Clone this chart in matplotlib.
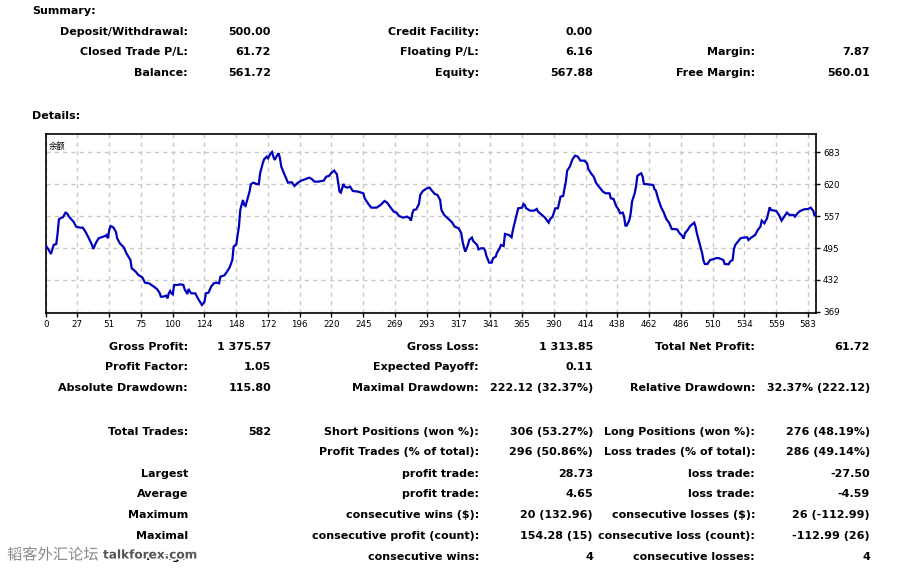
import matplotlib
matplotlib.use("Agg")
import matplotlib.pyplot as plt
import matplotlib.patheffects as pe
import numpy as np

# ---------------- data ----------------
trade_idx = [0, 2, 4, 6, 8, 9, 10, 12, 13, 15, 16, 18, 21, 23, 26, 28, 30, 32, 35, 36,
             38, 40, 42, 45, 46, 47, 48, 49, 51, 53, 54, 56, 59, 61, 64, 65, 68, 70, 73, 75,
             78, 81, 84, 86, 87, 89, 91, 92, 93, 94, 95, 96, 97, 99, 102, 104, 105, 107, 108, 109,
             110, 113, 115, 117, 118, 120, 121, 123, 125, 127, 129, 131, 132, 135, 137, 139, 141, 142, 144, 145,
             146, 147, 149, 150, 151, 153, 154, 155, 157, 159, 161, 162, 164, 165, 167, 168, 170, 171, 172, 173,
             175, 176, 177, 178, 180, 182, 183, 186, 188, 190, 193, 196, 199, 201, 203, 206, 210, 212, 214, 216,
             218, 220, 221, 222, 223, 224, 225, 226, 228, 230, 232, 236, 240, 241, 244, 246, 250, 253, 256, 258,
             261, 263, 265, 267, 270, 273, 275, 276, 277, 278, 280, 282, 283, 285, 288, 290, 292, 294, 296, 298,
             299, 301, 303, 307, 309, 312, 314, 315, 316, 317, 319, 320, 322, 323, 326, 327, 329, 331, 332, 333,
             335, 337, 338, 340, 341, 343, 344, 346, 347, 350, 352, 353, 355, 357, 360, 361, 362, 363, 366, 369,
             371, 372, 375, 377, 380, 381, 383, 385, 387, 389, 391, 392, 393, 394, 396, 398, 400, 402, 404, 407,
             409, 410, 412, 414, 416, 419, 421, 423, 426, 427, 429, 431, 433, 434, 436, 437, 438, 439, 441, 442,
             443, 445, 446, 447, 449, 450, 451, 452, 455, 459, 460, 461, 463, 465, 467, 469, 471, 473, 477, 479,
             481, 482, 483, 485, 487, 490, 491, 492, 494, 496, 497, 498, 500, 502, 504, 507, 509, 512, 513, 516,
             517, 519, 520, 521, 523, 525, 527, 530, 531, 533, 536, 538, 540, 541, 543, 545, 547, 548, 552, 554,
             556, 558, 560, 562, 565, 566, 568, 570, 573, 576, 578, 580, 581, 582]
balance = [500.0, 492.5, 483.3, 501.0, 503.0, 524.0, 551.5, 554.8, 555.5, 564.7, 563.4, 555.5, 546.9, 537.1, 535.1, 535.1, 527.3, 517.4, 501.0, 493.2,
           505.6, 514.2, 516.1, 518.7, 520.7, 514.2, 530.5, 538.4, 535.8, 527.3, 514.2, 504.3, 496.4, 484.6, 471.5, 455.1, 448.6, 442.0, 437.4, 426.9,
           425.6, 420.4, 414.5, 407.2, 399.4, 399.4, 401.3, 396.1, 405.9, 410.5, 405.9, 403.9, 422.3, 422.3, 423.6, 422.3, 413.8, 404.6, 414.5, 409.2,
           405.9, 405.9, 396.1, 387.5, 383.0, 389.5, 405.9, 407.2, 419.0, 425.6, 426.9, 425.6, 438.7, 441.3, 448.5, 457.1, 471.5, 497.8, 502.3, 520.7,
           537.1, 569.9, 589.6, 579.7, 577.8, 596.1, 606.0, 620.4, 623.7, 621.1, 620.4, 642.1, 661.7, 669.6, 674.9, 671.6, 681.4, 684.0, 674.9, 668.3,
           678.1, 681.4, 671.6, 655.2, 642.1, 630.3, 623.7, 624.4, 617.1, 622.4, 627.6, 630.3, 633.5, 630.9, 625.7, 625.7, 627.6, 635.5, 636.8, 643.4,
           647.3, 640.1, 622.4, 606.0, 604.0, 612.5, 621.1, 615.8, 613.9, 615.8, 607.3, 606.0, 602.7, 592.9, 581.0, 574.5, 574.5, 579.7, 587.6, 584.3,
           573.2, 566.6, 564.7, 558.1, 554.8, 556.8, 553.5, 548.9, 563.4, 569.9, 571.2, 581.7, 599.4, 607.3, 612.5, 613.9, 607.3, 601.4, 599.4, 589.6,
           569.9, 560.1, 555.5, 545.6, 537.1, 533.8, 524.0, 507.6, 496.4, 487.9, 501.0, 510.9, 515.5, 508.9, 501.0, 492.5, 494.5, 494.5, 489.9, 479.4,
           466.3, 466.3, 474.8, 478.1, 485.9, 494.5, 501.0, 499.0, 522.7, 520.7, 516.1, 530.5, 551.5, 573.2, 574.5, 581.7, 579.7, 573.2, 568.6, 568.6,
           571.9, 566.6, 560.1, 555.5, 545.0, 551.5, 556.8, 573.2, 573.2, 596.1, 597.5, 612.5, 625.7, 647.3, 655.2, 669.6, 676.8, 674.9, 667.0, 667.0,
           661.7, 650.6, 642.1, 635.5, 622.4, 612.5, 606.0, 602.7, 602.7, 592.9, 591.6, 577.8, 569.9, 563.4, 564.7, 556.8, 539.1, 539.1, 550.2, 563.4,
           586.3, 602.7, 615.8, 636.8, 640.7, 642.1, 635.5, 621.1, 620.4, 619.1, 610.6, 608.0, 589.6, 575.1, 564.7, 551.5, 545.0, 532.5, 531.8, 524.0,
           518.7, 513.5, 524.0, 530.5, 538.4, 545.0, 537.1, 524.0, 504.3, 484.6, 470.2, 463.6, 463.6, 471.5, 472.8, 475.4, 474.8, 471.5, 463.6, 463.0,
           468.2, 471.5, 493.2, 501.0, 507.6, 514.2, 515.5, 516.1, 510.9, 515.5, 520.7, 530.5, 537.1, 548.9, 543.7, 553.5, 575.1, 569.9, 567.9, 560.1,
           548.9, 556.8, 564.7, 560.1, 560.1, 556.8, 563.4, 567.9, 571.2, 571.9, 574.5, 567.9, 558.1, 561.7]

x_tick_labels = ["0", "27", "51", "75", "100", "124", "148", "172", "196", "220", "245", "269",
                 "293", "317", "341", "365", "390", "414", "438", "462", "486", "510", "534", "559", "583"]
y_tick_labels = ["369", "432", "495", "557", "620", "683"]
chart_label = "余额"

summary_rows = [
    ("Deposit/Withdrawal:", "500.00", "Credit Facility:", "0.00", "", ""),
    ("Closed Trade P/L:", "61.72", "Floating P/L:", "6.16", "Margin:", "7.87"),
    ("Balance:", "561.72", "Equity:", "567.88", "Free Margin:", "560.01"),
]
detail_rows = [
    ("Gross Profit:", "1 375.57", "Gross Loss:", "1 313.85", "Total Net Profit:", "61.72"),
    ("Profit Factor:", "1.05", "Expected Payoff:", "0.11", "", ""),
    ("Absolute Drawdown:", "115.80", "Maximal Drawdown:", "222.12 (32.37%)", "Relative Drawdown:", "32.37% (222.12)"),
    ("Total Trades:", "582", "Short Positions (won %):", "306 (53.27%)", "Long Positions (won %):", "276 (48.19%)"),
    ("", "", "Profit Trades (% of total):", "296 (50.86%)", "Loss trades (% of total):", "286 (49.14%)"),
    ("Largest", "", "profit trade:", "28.73", "loss trade:", "-27.50"),
    ("Average", "", "profit trade:", "4.65", "loss trade:", "-4.59"),
    ("Maximum", "", "consecutive wins ($):", "20 (132.96)", "consecutive losses ($):", "26 (-112.99)"),
    ("Maximal", "", "consecutive profit (count):", "154.28 (15)", "consecutive loss (count):", "-112.99 (26)"),
    ("Average", "", "consecutive wins:", "4", "consecutive losses:", "4"),
]

# ---------------- layout ----------------
W, H = 921, 568
fig = plt.figure(figsize=(W / 100, H / 100), dpi=100)
fig.patch.set_facecolor("white")

def fx(px):
    return px / W

def fy(py):
    return 1 - py / H

ax_l, ax_r, ax_t, ax_b = 45.7, 816.0, 134.3, 313.0
ax = fig.add_axes([fx(ax_l), fy(ax_b), (ax_r - ax_l) / W, (ax_b - ax_t) / H])

ax.plot(trade_idx, balance, color="#0000BB", lw=1.6, solid_joinstyle="miter", zorder=3)

ax.set_xlim(0, 582)
ax.set_ylim(367.2, 718.8)

n_x = len(x_tick_labels)
x_ticks = np.concatenate([[0.0], 23.9 + 24.0 * np.arange(n_x - 1)])
ax.set_xticks(x_ticks)
ax.set_xticklabels(x_tick_labels)
y_ticks = 369.4 + 62.8 * np.arange(len(y_tick_labels))
ax.set_yticks(y_ticks)
ax.set_yticklabels(y_tick_labels)
ax.yaxis.tick_right()

ax.grid(True, color="#c8c8c8", linestyle=(0, (3, 3)), linewidth=1.0, zorder=0)
ax.tick_params(axis="both", direction="out", length=3, width=1, labelsize=6.3,
               colors="black", pad=2)
for s in ax.spines.values():
    s.set_linewidth(1.2)
    s.set_color("black")

ax.text(0.004, 0.955, chart_label, transform=ax.transAxes, fontsize=6,
        family=["Noto Sans CJK SC", "DejaVu Sans"], va="top", ha="left")

# ---------------- text ----------------
tfont = dict(family="DejaVu Sans", fontsize=8.0, fontweight="bold", color="black", va="center")
cols = [188, 271, 479, 593, 755, 870]

fig.text(fx(32), fy(11), "Summary:", ha="left", **tfont)
fig.text(fx(32), fy(116), "Details:", ha="left", **tfont)

for row, y in zip(summary_rows, [32, 52, 73]):
    for txt, cx in zip(row, cols):
        if txt:
            fig.text(fx(cx), fy(y), txt, ha="right", **tfont)

detail_ys = [347, 367, 388, 432, 452, 474, 494, 515, 536, 557]
for row, y in zip(detail_rows, detail_ys):
    for txt, cx in zip(row, cols):
        if txt:
            fig.text(fx(cx), fy(y), txt, ha="right", **tfont)

# watermark
halo = [pe.withStroke(linewidth=2.5, foreground="white")]
fig.text(fx(7), fy(555), "韬客外汇论坛", ha="left", va="center", fontsize=11,
         family=["Noto Sans CJK SC", "DejaVu Sans"], color="#8a8a8a", path_effects=halo)
fig.text(fx(103), fy(555), "talkforex.com", ha="left", va="center", fontsize=8.7,
         family="DejaVu Sans", fontweight="bold", color="#555555", path_effects=halo)

fig.savefig("out.png", dpi=100, facecolor="white")
